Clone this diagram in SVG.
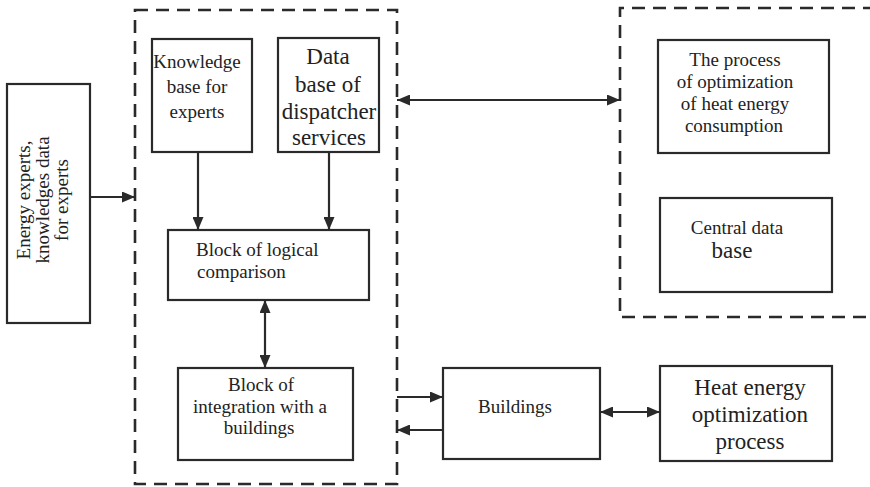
<svg xmlns="http://www.w3.org/2000/svg" width="870" height="487" viewBox="0 0 870 487">
<style>
.box{fill:#fff;stroke:#2a2a2a;stroke-width:2.2}
.dash{fill:none;stroke:#2a2a2a;stroke-width:2.6;stroke-dasharray:13 8}
.con{fill:none;stroke:#2a2a2a;stroke-width:2.2}
.t{fill:#222;text-anchor:middle}
.f19{font-size:19px}
.f23{font-size:23px}
</style>
<defs>
<marker id="ah" markerUnits="userSpaceOnUse" markerWidth="13" markerHeight="11" refX="13" refY="5.5" orient="auto-start-reverse">
<path d="M0,0 L13,5.5 L0,11 z" fill="#2a2a2a"/>
</marker>
</defs>
<rect width="870" height="487" fill="#fff"/>

<g id="group-main">
<rect class="dash" x="135" y="10" width="262" height="474"/>
</g>
<g id="group-right">
<path class="dash" d="M876,8 H620 V317 H876"/>
</g>

<g font-family="Liberation Serif, Times New Roman, DejaVu Serif, serif">
<g id="energy-experts">
<rect class="box" x="7" y="84" width="83" height="239"/>
<g transform="translate(0,200) rotate(-90)" class="t f19">
<text x="0" y="30">Energy experts,</text>
<text x="0" y="49">knowledges data</text>
<text x="0" y="68">for experts</text>
</g>
</g>

<g id="knowledge-base" class="t">
<rect class="box" x="152" y="39" width="100" height="113"/>
<text class="f19" x="197" y="68">Knowledge</text>
<text class="f19" x="197" y="93">base for</text>
<text class="f19" x="197" y="118">experts</text>
</g>

<g id="dispatcher-db" class="t">
<rect class="box" x="278" y="38" width="101" height="114"/>
<text class="f23" x="328" y="64">Data</text>
<text class="f23" x="328" y="92">base of</text>
<text class="f23" x="329" y="119">dispatcher</text>
<text class="f23" x="329" y="145">services</text>
</g>

<g id="logical-comparison" class="t">
<rect class="box" x="168" y="230" width="201" height="70"/>
<text class="f19" x="196" y="256" style="text-anchor:start">Block of logical</text>
<text class="f19" x="197" y="278" style="text-anchor:start">comparison</text>
</g>

<g id="integration-block" class="t">
<rect class="box" x="178" y="368" width="175" height="92"/>
<text class="f19" x="261" y="391">Block of</text>
<text class="f19" x="260" y="413">integration with a</text>
<text class="f19" x="259" y="434">buildings</text>
</g>

<g id="optimization-process" class="t">
<rect class="box" x="658" y="40" width="171" height="113"/>
<text class="f19" x="735" y="66">The process</text>
<text class="f19" x="735" y="88">of optimization</text>
<text class="f19" x="735" y="110">of heat energy</text>
<text class="f19" x="734" y="132">consumption</text>
</g>

<g id="central-db" class="t">
<rect class="box" x="660" y="198" width="172" height="94"/>
<text class="f19" x="737" y="234">Central data</text>
<text class="f23" x="732" y="258">base</text>
</g>

<g id="buildings" class="t">
<rect class="box" x="443" y="368" width="157" height="91"/>
<text class="f19" x="515" y="413">Buildings</text>
</g>

<g id="heat-optimization" class="t">
<rect class="box" x="660" y="366" width="172" height="95"/>
<text class="f23" x="750" y="395">Heat energy</text>
<text class="f23" x="750" y="422">optimization</text>
<text class="f23" x="750" y="449">process</text>
</g>
</g>

<g id="connectors">
<line class="con" x1="90" y1="197" x2="135" y2="197" marker-end="url(#ah)"/>
<line class="con" x1="198" y1="152" x2="198" y2="230" marker-end="url(#ah)"/>
<line class="con" x1="329" y1="152" x2="329" y2="230" marker-end="url(#ah)"/>
<line class="con" x1="265" y1="300" x2="265" y2="368" marker-start="url(#ah)" marker-end="url(#ah)"/>
<line class="con" x1="397" y1="100" x2="620" y2="100" marker-start="url(#ah)" marker-end="url(#ah)"/>
<line class="con" x1="397" y1="397" x2="443" y2="397" marker-end="url(#ah)"/>
<line class="con" x1="443" y1="430" x2="397" y2="430" marker-end="url(#ah)"/>
<line class="con" x1="600" y1="412" x2="660" y2="412" marker-start="url(#ah)" marker-end="url(#ah)"/>
</g>
</svg>
